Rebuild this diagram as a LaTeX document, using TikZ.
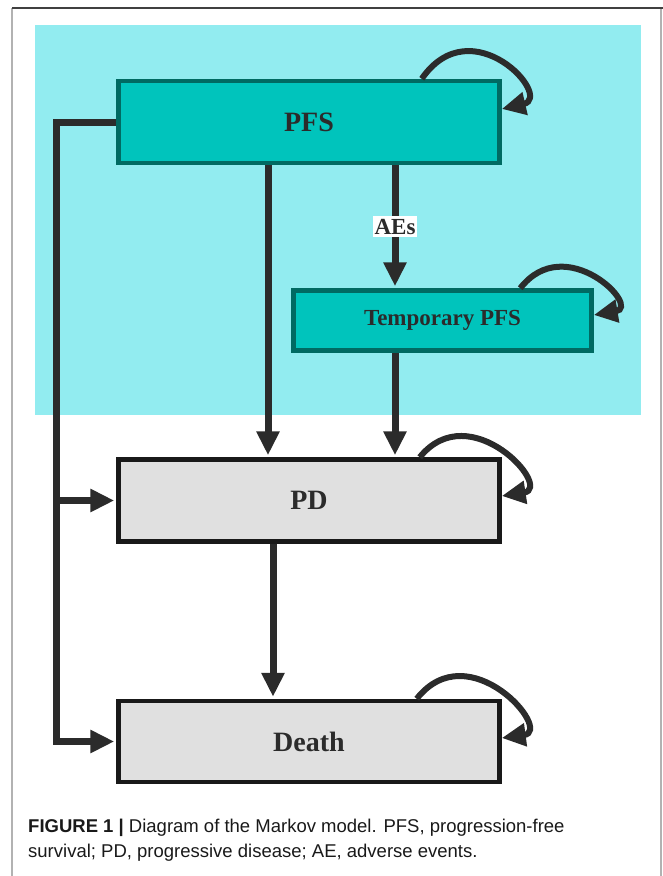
\documentclass[tikz,border=0pt]{standalone}
\usepackage{fontspec}
\setmainfont{Liberation Serif}
\newfontfamily\capfont{Liberation Sans}
\usetikzlibrary{arrows.meta,positioning}
\definecolor{bgcyan}{HTML}{92ECF0}
\definecolor{tealfill}{HTML}{00C4BC}
\definecolor{tealdraw}{HTML}{006A62}
\definecolor{greyfill}{HTML}{E0E0E0}
\definecolor{inkdark}{HTML}{2B2B2B}

\begin{document}
\begin{tikzpicture}[x=1pt,y=-1pt,>={Triangle[length=24pt,width=22pt]},
    box/.style={rectangle,line width=4.5pt,minimum width=381pt,minimum height=82pt,
      text=inkdark,font=\bfseries\fontsize{28}{32}\selectfont},
    tbox/.style={box,fill=tealfill,draw=tealdraw},
    gbox/.style={box,fill=greyfill,draw=black!90},
    conn/.style={->,draw=inkdark,line width=7pt,shorten >=2pt},
    selfloop/.style={->,draw=inkdark,line width=6pt},
    capline/.style={anchor=base west,inner sep=0pt,text=black!90,font=\capfont\fontsize{18.5}{22}\selectfont}]
    \useasboundingbox (0,0) rectangle (663,876);
    \fill[bgcyan] (35,25) rectangle (641,415);
    \draw[black!30,line width=1.5pt] (12,8) -- (12,876) (661,8) -- (661,876);
    \draw[black!75,line width=1.5pt] (12,8) -- (663,8);

    \node[tbox] (pfs) at (309,122) {PFS};
    \node[tbox,minimum width=298pt,minimum height=60pt,
      font=\bfseries\fontsize{23}{27}\selectfont] (tpfs) at (442.5,320.5) {Temporary PFS};
    \node[gbox] (pd) at (309,500.5) {PD};
    \node[gbox,minimum height=81pt] (death) at (309,741.5) {Death};

    \draw[conn] ([xshift=-41pt]pfs.south) -- ([xshift=-41pt]pd.north);
    \draw[conn] ([xshift=86pt]pfs.south) -- ([xshift=-47.5pt]tpfs.north)
      node[midway,fill=white,inner xsep=1.5pt,inner ysep=3pt,text=inkdark,
        font=\bfseries\fontsize{23}{27}\selectfont] (aes) {AEs};
    \draw[conn] ([xshift=-47.5pt]tpfs.south) -- ([xshift=86pt]pd.north);
    \draw[conn] ([xshift=-36pt]pd.south) -- ([xshift=-36pt]death.north);
    \draw[conn] (pfs.west) -| ([xshift=-60pt]death.west) -- (death.west);
    \draw[conn] ([xshift=-60pt]pd.west) -- (pd.west);

    \draw[selfloop] ([xshift=-80pt]pfs.north east) .. controls +(50,-72) and +(52,-12) .. ([yshift=13pt]pfs.east);
    \draw[selfloop] ([xshift=-73.5pt]tpfs.north east) .. controls +(45,-58) and +(48,-8) .. ([yshift=5.5pt]tpfs.east);
    \draw[selfloop] ([xshift=-82pt]pd.north east) .. controls +(50,-62) and +(52,-8) .. ([yshift=4.5pt]pd.east);
    \draw[selfloop] ([xshift=-85pt]death.north east) .. controls +(52,-66) and +(52,-7) .. ([yshift=3.5pt]death.east);

    \node[capline] (cap1) at (28,832) {\textbf{FIGURE 1 |} Diagram of the Markov model. PFS, progression-free};
    \node[capline] (cap2) at (28,857) {survival; PD, progressive disease; AE, adverse events.};
\end{tikzpicture}
\end{document}
